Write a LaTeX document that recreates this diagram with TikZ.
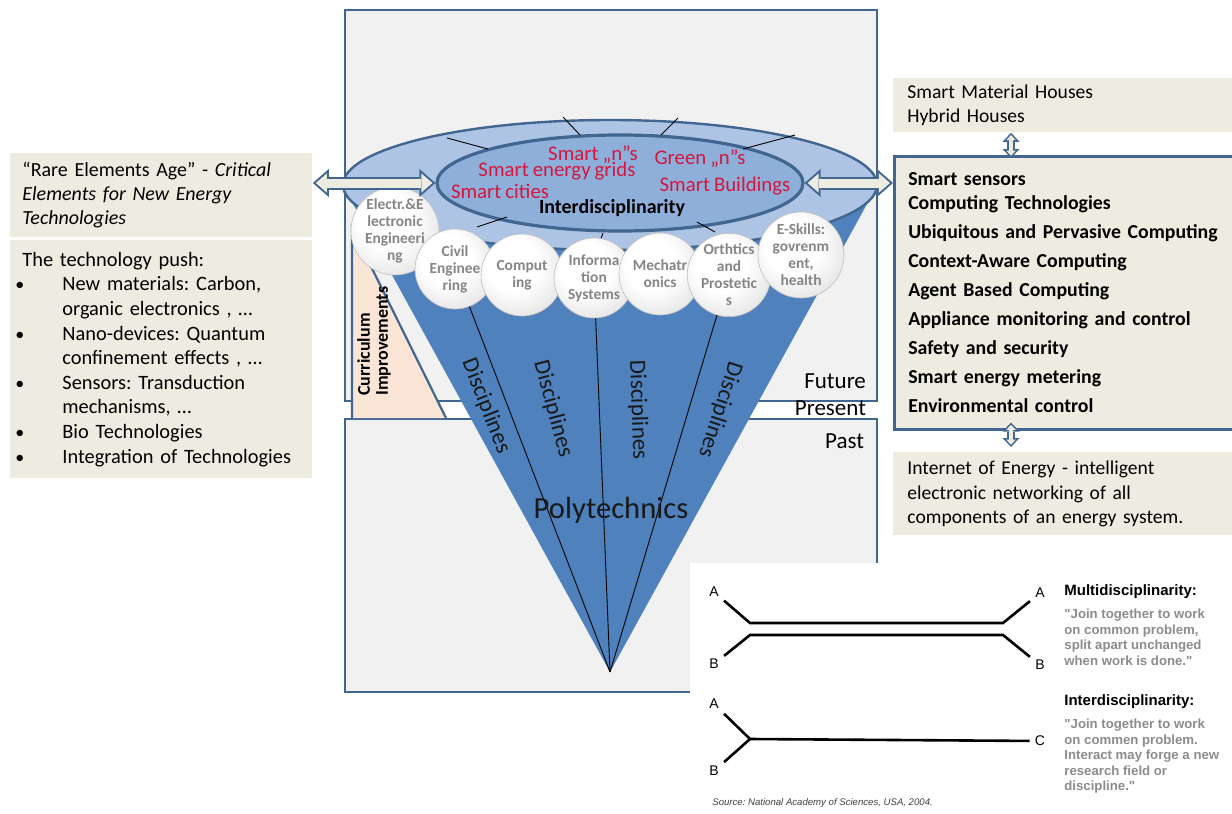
\documentclass[tikz,border=0pt]{standalone}
\usepackage{fontspec}
\setmainfont{Carlito}[WordSpace=0.85]
\newfontfamily\arialfont{Liberation Sans}
\usetikzlibrary{arrows.meta,shapes.geometric}
\frenchspacing

\definecolor{frameblue}{HTML}{41668F}
\definecolor{conedark}{HTML}{4F81BD}
\definecolor{conelight}{HTML}{ADC4E4}
\definecolor{innerblue}{HTML}{8FAFDB}
\definecolor{paper}{HTML}{F1F1F1}
\definecolor{beige}{HTML}{EEECE1}
\definecolor{peach}{HTML}{FBE5D6}
\definecolor{smartred}{HTML}{D4163C}
\definecolor{bubblegray}{HTML}{858585}
\definecolor{quotegray}{HTML}{8C8C8C}

\pgfdeclareradialshading{bubbleshade}{\pgfpoint{-7bp}{8bp}}{color(0bp)=(white); color(16bp)=(white); color(34bp)=(black!12); color(50bp)=(black!42); color(60bp)=(black!50)}

\newcommand{\pushbullet}{\hspace*{-3.5pt}\makebox[23.5pt][l]{\small\textbullet}}
\newcommand{\pushindent}{\hspace*{20pt}}

\begin{document}
\begin{tikzpicture}[x=0.5pt, y=-0.5pt,
  frame/.style={draw=frameblue, line width=1.25pt, fill=paper},
  note/.style={fill=beige, anchor=north west, inner ysep=0pt, align=left},
  bubble/.style={circle, inner sep=0pt, shading=bubbleshade, draw=black!25, line width=0.3pt,
    align=center, text=bubblegray, font=\bfseries\fontsize{7.7}{8.5}\selectfont},
  smart/.style={text=smartred, font=\fontsize{10.4}{12}\selectfont},
  discl/.style={text=black!90, font=\fontsize{11.6}{12}\selectfont},
  spoke/.style={black, line width=0.45pt},
  dblout/.style={draw=frameblue, line width=6.5pt,
    {Triangle[length=8pt,width=14pt,line width=0pt]}-{Triangle[length=8pt,width=14pt,line width=0pt]}},
  dblin/.style={draw=beige, line width=4.5pt, shorten <=1.52pt, shorten >=1.52pt,
    {Triangle[length=5.5pt,width=9.6pt,line width=0pt]}-{Triangle[length=5.5pt,width=9.6pt,line width=0pt]}},
  vdblout/.style={draw=frameblue, line width=3.6pt,
    {Triangle[length=4.5pt,width=8.5pt,line width=0pt]}-{Triangle[length=4.5pt,width=8.5pt,line width=0pt]}},
  vdblin/.style={draw=beige, line width=2pt, shorten <=1.16pt, shorten >=1.16pt,
    {Triangle[length=2.54pt,width=4.8pt,line width=0pt]}-{Triangle[length=2.54pt,width=4.8pt,line width=0pt]}},
  lbl/.style={font=\arialfont\fontsize{7}{8}\selectfont, inner sep=2.5pt},
  track/.style={black, line width=1.3pt},
  quote/.style={anchor=north west, inner sep=0pt, align=left, text=quotegray,
    font=\arialfont\bfseries\fontsize{6.6}{7.75}\selectfont}]
\useasboundingbox (0,0) rectangle (1232,814);
\fill[white] (0,0) rectangle (1232,814);

%time frames:
\draw[frame] (345,10) rectangle (877,401);
\draw[frame] (345,419) rectangle (877,692);

%curriculum wedge:
\filldraw[fill=peach, draw=frameblue, line width=1.1pt] (446,418) -- (352,228) -- (352,418);
\node[rotate=90, anchor=west, inner sep=0pt, align=left, font=\bfseries\fontsize{9}{9}\selectfont] (curric) at (374,396) {Curriculum\\Improvements};

%cone:
\node[ellipse, minimum width=267pt, minimum height=65pt, inner sep=0pt] (outer) at (610,185) {};
\coordinate (apex) at (610,672);
\fill[conedark] (outer.west) -- (apex) -- (outer.east) -- cycle;
\node[ellipse, fill=conelight, draw=frameblue, line width=1.2pt, minimum width=267pt, minimum height=65pt] at (610,185) {};
\node[ellipse, fill=innerblue, draw=frameblue, line width=1.6pt, minimum width=183pt, minimum height=48pt] (inner) at (620,183) {};

%spokes:
\foreach \xa/\ya/\xb/\yb in {447/138/488/149, 563/117/580/135, 678/118/661/135, 795/135/743/149,
  477/227/507/217, 598/247/603/233, 697/222/715/232}
  \draw[spoke] (\xa,\ya) -- (\xb,\yb);

%topics:
\node[smart] (smartn) at (593,155) {Smart „n”s};
\node[smart] (grids) at (557,171) {Smart energy grids};
\node[smart] (cities) at (500,191) {Smart cities};
\node[smart] (greenn) at (700,159) {Green „n”s};
\node[smart] (buildings) at (725,186) {Smart Buildings};
\node[font=\bfseries\fontsize{10}{12}\selectfont] (inter) at (612,208) {Interdisciplinarity};

%disciplines:
\foreach \nm/\cx/\cy/\r/\txt in {elec/395/231/44/{Electr.\&E\\lectronic\\Engineeri\\ng},
  civil/455/269/40/{Civil\\Enginee\\ring}, comp/522/275/41/{Comput\\ing},
  info/594/278/40/{Informa\\tion\\Systems}, mech/660/274/41/{Mechatr\\onics},
  ortho/729/275/40/{Orthtics\\and\\Prostetic\\s}, eskill/801/255/43/{E-Skills:\\govrenm\\ent,\\health}}
  \node[bubble, minimum size=\r pt] (\nm) at (\cx,\cy) {\txt};

\foreach \nm in {civil, info, ortho}
  \draw[spoke] (apex) -- (\nm);

\foreach \nm/\cx/\cy/\ang in {disc1/486/406/-68.6, disc2/553/409/-75, disc3/638/410/-88, disc4/720/410/-108}
  \node[discl, rotate=\ang] (\nm) at (\cx,\cy) {Disciplines};

\node[text=black!90, font=\fontsize{15.3}{16}\selectfont] (poly) at (611,510) {Polytechnics};

%time labels:
\node[anchor=east, font=\fontsize{11.5}{12}\selectfont] (future) at (873,381) {Future};
\node[anchor=east, font=\fontsize{11.5}{12}\selectfont] (present) at (873,408) {Present};
\node[anchor=east, font=\fontsize{11.5}{12}\selectfont] (past) at (871,441) {Past};

%left notes:
\node[note, inner xsep=6pt, text width=139pt, minimum width=151pt, minimum height=42pt,
  font=\fontsize{10}{12}\selectfont] (rare) at (10,153)
  {“Rare Elements Age” - \textit{Critical}\\\textit{Elements for New Energy}\\\textit{Technologies}};
\node[note, inner xsep=6pt, text width=139pt, minimum width=151pt, minimum height=119pt,
  font=\fontsize{10.2}{12.3}\selectfont] (push) at (10,240)
  {The technology push:\\
   \pushbullet New materials: Carbon,\\
   \pushindent organic electronics , …\\
   \pushbullet Nano-devices: Quantum\\
   \pushindent confinement effects , …\\
   \pushbullet Sensors: Transduction\\
   \pushindent mechanisms, …\\
   \pushbullet Bio Technologies\\
   \pushbullet Integration of Technologies};

%right notes:
\node[note, inner xsep=7pt, text width=165pt, minimum height=27pt,
  font=\fontsize{9.8}{12}\selectfont] (houses) at (893,78)
  {Smart Material Houses\\Hybrid Houses};
\node[note, draw=frameblue, line width=1.25pt, inner xsep=7pt, text width=165pt, minimum height=136.5pt,
  font=\bfseries\fontsize{9.9}{14.5}\selectfont] (techs) at (893,155)
  {Smart sensors\\[-2.5pt]
   Computing Technologies\\
   Ubiquitous and Pervasive Computing\\
   Context-Aware Computing\\
   Agent Based Computing\\
   Appliance monitoring and control\\
   Safety and security\\
   Smart energy metering\\
   Environmental control};
\node[note, inner xsep=7pt, text width=165pt, minimum height=41.5pt,
  font=\fontsize{9.8}{12.25}\selectfont] (ioe) at (893,452)
  {Internet of Energy - intelligent\\electronic networking of all\\components of an energy system.};

%block arrows:
\draw[dblout] (rare.east |- inner.west) -- (inner.west);
\draw[dblin] (rare.east |- inner.west) -- (inner.west);
\draw[dblout] (inner.east) -- (techs.west |- inner.east);
\draw[dblin] (inner.east) -- (techs.west |- inner.east);
\coordinate (vx) at (1011,0);
\draw[vdblout] (vx |- houses.south) -- ([yshift=-1.5pt]vx |- techs.north);
\draw[vdblin] (vx |- houses.south) -- ([yshift=-1.5pt]vx |- techs.north);
\draw[vdblout] ([yshift=4pt]vx |- techs.south) -- ([yshift=2.5pt]vx |- ioe.north);
\draw[vdblin] ([yshift=4pt]vx |- techs.south) -- ([yshift=2.5pt]vx |- ioe.north);

%inset:
\fill[white] (690,563) rectangle (1232,814);
\node[lbl] (ma1) at (714,592) {A};
\node[lbl] (mb1) at (714,664) {B};
\node[lbl] (ma2) at (1040,593) {A};
\node[lbl] (mb2) at (1040,665) {B};
\node[lbl] (ia) at (714,704) {A};
\node[lbl] (ib) at (714,771) {B};
\node[lbl] (ic) at (1040,741) {C};
\draw[track] (ma1) -- (750,623) -- (1003,623) -- (ma2);
\draw[track] (mb1) -- (750,635) -- (1003,635) -- (mb2);
\draw[track] (ia) -- (750,739) -- (ic);
\draw[track] (ib) -- (750,739);

\node[anchor=west, inner sep=0pt, font=\arialfont\bfseries\fontsize{7.5}{8}\selectfont] (multi) at (1064,592) {Multidisciplinarity:};
\node[quote] (multiq) at (1064,609) {"Join together to work\\on common problem,\\split apart unchanged\\when work is done."};
\node[anchor=west, inner sep=0pt, font=\arialfont\bfseries\fontsize{7.5}{8}\selectfont] (interd) at (1064,702) {Interdisciplinarity:};
\node[quote] (interq) at (1064,719) {"Join together to work\\on commen problem.\\Interact may forge a new\\research field or\\discipline."};
\node[anchor=west, inner sep=0pt, text=black!75, font=\arialfont\itshape\fontsize{4.8}{5}\selectfont] (src) at (712,803) {Source: National Academy of Sciences, USA, 2004.};
\end{tikzpicture}
\end{document}
